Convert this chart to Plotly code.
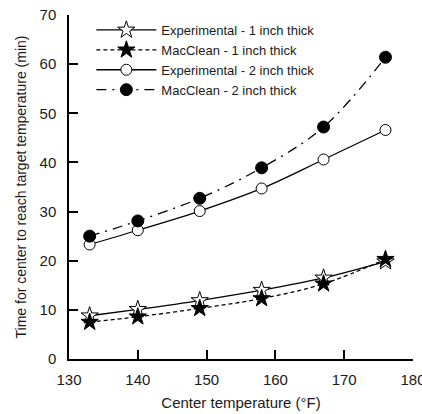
import plotly.graph_objects as go

temps = [133, 140, 149, 158, 167, 176]
exp_1in = [8.8, 10.1, 11.9, 14.0, 16.5, 19.8]
mac_1in = [7.5, 8.6, 10.3, 12.3, 15.3, 20.3]
exp_2in = [23.3, 26.2, 30.1, 34.7, 40.6, 46.6]
mac_2in = [25.0, 28.1, 32.7, 38.9, 47.2, 61.4]

names = ["Experimental - 1 inch thick", "MacClean - 1 inch thick",
         "Experimental - 2 inch thick", "MacClean - 2 inch thick"]

x_ticks = [130, 140, 150, 160, 170, 180]
y_ticks = [0, 10, 20, 30, 40, 50, 60, 70]

FONT = "Liberation Sans, Arial, sans-serif"
TXT = "#1a1a1a"

fig = go.Figure()

fig.add_trace(go.Scatter(
    x=temps, y=exp_1in, name=names[0], mode="lines+markers",
    line=dict(color="black", width=1.3, shape="spline", dash="solid"),
    marker=dict(symbol="star", size=13, color="white", line=dict(color="black", width=1)),
))
fig.add_trace(go.Scatter(
    x=temps, y=mac_1in, name=names[1], mode="lines+markers",
    line=dict(color="black", width=1.3, shape="spline", dash="4px,3px"),
    marker=dict(symbol="star", size=13, color="black", line=dict(color="black", width=1)),
))
fig.add_trace(go.Scatter(
    x=temps, y=exp_2in, name=names[2], mode="lines+markers",
    line=dict(color="black", width=1.3, shape="spline", dash="solid"),
    marker=dict(symbol="circle", size=11, color="white", line=dict(color="black", width=1)),
))
fig.add_trace(go.Scatter(
    x=temps, y=mac_2in, name=names[3], mode="lines+markers",
    line=dict(color="black", width=1.3, shape="spline", dash="10px,6px,2px,6px"),
    marker=dict(symbol="circle", size=12, color="black", line=dict(color="black", width=1)),
))

fig.update_layout(
    width=422, height=414,
    margin=dict(l=69, r=9, t=15, b=55, autoexpand=False),
    paper_bgcolor="white", plot_bgcolor="white",
    font=dict(family=FONT, color=TXT, size=14),
    showlegend=True,
    legend=dict(
        x=0.065, y=1.0, xanchor="left", yanchor="top",
        bgcolor="rgba(0,0,0,0)", font=dict(size=13, family=FONT, color=TXT),
        itemwidth=60, tracegroupgap=0,
    ),
    xaxis=dict(
        range=[130, 180], tickvals=x_ticks, ticktext=[str(v) for v in x_ticks],
        showline=True, linecolor="black", linewidth=1.5,
        ticks="inside", ticklen=9, tickwidth=1.5, tickcolor="black",
        showgrid=False, zeroline=False, automargin=False,
        ticklabeloverflow="allow",
        tickfont=dict(size=15, family=FONT, color=TXT),
        ticklabelstandoff=6,
        title=dict(text="Center temperature (°F)", font=dict(size=15, family=FONT, color=TXT), standoff=11),
    ),
    yaxis=dict(
        range=[0, 70], tickvals=y_ticks, ticktext=[str(v) for v in y_ticks],
        showline=True, linecolor="black", linewidth=1.5,
        ticks="inside", ticklen=9, tickwidth=1.5, tickcolor="black",
        showgrid=False, zeroline=False, automargin=False,
        ticklabeloverflow="allow",
        tickfont=dict(size=15, family=FONT, color=TXT),
        ticklabelstandoff=8,
        title=dict(text="Time for center to reach target temperature (min)", font=dict(size=14, family=FONT, color=TXT), standoff=10),
    ),
)

fig.write_html(
    "out.html",
    config={"displayModeBar": False},
    post_script="document.body.style.margin='0';document.body.style.overflow='hidden';",
)
